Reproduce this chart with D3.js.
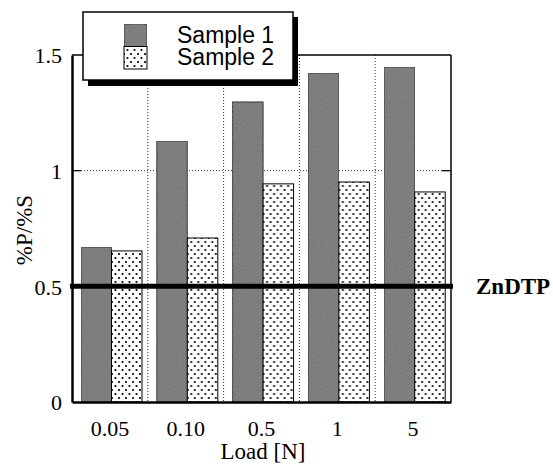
<!DOCTYPE html>
<html>
<head>
<meta charset="utf-8" />
<title>%P/%S vs load</title>
<script src="https://cdn.jsdelivr.net/npm/d3@7/dist/d3.min.js"></script>
<style>
  body { margin: 0; background: #fff; }
  svg { display: block; }
  .tick-label { font-family: "Liberation Serif", "Times New Roman", serif; font-size: 22px; fill: #000; }
</style>
</head>
<body>
<div id="chart"></div>
<script>
// data
var loads = ["0.05", "0.10", "0.5", "1", "5"];
var seriesNames = ["Sample 1", "Sample 2"];
var sample1 = [0.67, 1.128, 1.297, 1.422, 1.448];
var sample2 = [0.653, 0.709, 0.943, 0.951, 0.908];
var yTicks = [0, 0.5, 1, 1.5];
var refValue = 0.5;   // ZnDTP level

(function () {
  var width = 553, height = 470;
  var mLeft = 72, mRight = 451, mTop = 55, mBottom = 402;

  var svg = d3.select("#chart").append("svg")
    .attr("width", width)
    .attr("height", height);

  // dotted fill for sample 2
  var defs = svg.append("defs");
  var pat = defs.append("pattern")
    .attr("id", "dots")
    .attr("patternUnits", "userSpaceOnUse")
    .attr("width", 7).attr("height", 8);
  pat.append("rect").attr("width", 7).attr("height", 8).attr("fill", "#fff");
  pat.append("circle").attr("cx", 1.5).attr("cy", 2).attr("r", 1.1).attr("fill", "#000");
  pat.append("circle").attr("cx", 5).attr("cy", 6).attr("r", 1.1).attr("fill", "#000");

  // grainy gray for sample 1
  var grain = defs.append("filter").attr("id", "grain").attr("x", 0).attr("y", 0).attr("width", 1).attr("height", 1);
  grain.append("feTurbulence").attr("type", "fractalNoise").attr("baseFrequency", 0.9).attr("numOctaves", 1).attr("result", "n");
  grain.append("feColorMatrix").attr("in", "n").attr("type", "matrix")
    .attr("values", "0 0 0 0 0.44  0 0 0 0 0.44  0 0 0 0 0.44  0 0 0 0.35 0").attr("result", "g");
  grain.append("feComposite").attr("in", "g").attr("in2", "SourceGraphic").attr("operator", "in").attr("result", "gg");
  var merge = grain.append("feMerge");
  merge.append("feMergeNode").attr("in", "SourceGraphic");
  merge.append("feMergeNode").attr("in", "gg");

  var x = d3.scaleBand().domain(loads).range([mLeft, mRight]).padding(0);
  var xInner = d3.scaleBand().domain(seriesNames).range([9, 70]).padding(0);
  var y = d3.scaleLinear().domain([0, 1.5]).range([mBottom, mTop]);

  // dotted grid
  svg.selectAll("line.vgrid")
    .data(loads.slice(1))
    .enter().append("line")
    .attr("class", "vgrid")
    .attr("x1", function (d) { return x(d); })
    .attr("x2", function (d) { return x(d); })
    .attr("y1", mTop).attr("y2", mBottom)
    .attr("stroke", "#333").attr("stroke-width", 1).attr("stroke-dasharray", "1,2");
  svg.selectAll("line.hgrid")
    .data([1])
    .enter().append("line")
    .attr("class", "hgrid")
    .attr("x1", mLeft).attr("x2", mRight)
    .attr("y1", function (d) { return y(d); })
    .attr("y2", function (d) { return y(d); })
    .attr("stroke", "#333").attr("stroke-width", 1).attr("stroke-dasharray", "1,2");

  // bars
  var rows = loads.map(function (l, i) {
    return { load: l, values: [sample1[i], sample2[i]] };
  });
  var grp = svg.selectAll("g.cat")
    .data(rows)
    .enter().append("g")
    .attr("class", "cat")
    .attr("transform", function (d) { return "translate(" + x(d.load) + ",0)"; });
  grp.selectAll("rect")
    .data(function (d) { return d.values.map(function (v, j) { return { name: seriesNames[j], v: v }; }); })
    .enter().append("rect")
    .attr("x", function (d) { return xInner(d.name); })
    .attr("width", xInner.bandwidth())
    .attr("y", function (d) { return y(d.v); })
    .attr("height", function (d) { return mBottom - y(d.v); })
    .attr("fill", function (d) { return d.name === "Sample 1" ? "#6f6f6f" : "url(#dots)"; })
    .attr("filter", function (d) { return d.name === "Sample 1" ? "url(#grain)" : null; })
    .attr("stroke", "#000").attr("stroke-width", 1);

  // frame: top and right thin
  svg.append("line").attr("x1", mLeft).attr("x2", mRight).attr("y1", mTop).attr("y2", mTop)
    .attr("stroke", "#000").attr("stroke-width", 1.5);
  svg.append("line").attr("x1", mRight).attr("x2", mRight).attr("y1", mTop).attr("y2", mBottom)
    .attr("stroke", "#000").attr("stroke-width", 1.5);

  // inward ticks on both sides
  svg.selectAll("line.ltick").data(yTicks.slice(1, 3)).enter().append("line")
    .attr("class", "ltick")
    .attr("x1", mLeft).attr("x2", mLeft + 9)
    .attr("y1", function (d) { return y(d); }).attr("y2", function (d) { return y(d); })
    .attr("stroke", "#000").attr("stroke-width", 1.2);
  svg.selectAll("line.rtick").data(yTicks.slice(1, 3)).enter().append("line")
    .attr("class", "rtick")
    .attr("x1", mRight - 9).attr("x2", mRight)
    .attr("y1", function (d) { return y(d); }).attr("y2", function (d) { return y(d); })
    .attr("stroke", "#000").attr("stroke-width", 1.2);

  // axes
  var yAxis = svg.append("g")
    .attr("transform", "translate(" + mLeft + ",0)")
    .call(d3.axisLeft(y).tickValues(yTicks).tickSize(0).tickPadding(10)
      .tickFormat(function (d) { return String(d); }));
  yAxis.select(".domain").attr("stroke-width", 2.5);
  yAxis.selectAll("text").attr("class", "tick-label").attr("dy", "0.35em");

  var xAxis = svg.append("g")
    .attr("transform", "translate(0," + mBottom + ")")
    .call(d3.axisBottom(x).tickSize(0).tickPadding(18));
  xAxis.select(".domain").attr("stroke-width", 2.5);
  xAxis.selectAll("text").attr("class", "tick-label");

  // ZnDTP reference line
  svg.append("line")
    .attr("x1", mLeft - 2).attr("x2", mRight + 2)
    .attr("y1", y(refValue)).attr("y2", y(refValue))
    .attr("stroke", "#000").attr("stroke-width", 5);
  svg.append("text")
    .attr("x", 476).attr("y", y(refValue))
    .attr("dy", "0.35em")
    .attr("font-family", "Liberation Serif, Times New Roman, serif")
    .attr("font-weight", "bold").attr("font-size", 23)
    .text("ZnDTP");

  // axis titles
  svg.append("text")
    .attr("transform", "translate(32,230) rotate(-90)")
    .attr("text-anchor", "middle")
    .attr("font-family", "Liberation Serif, Times New Roman, serif")
    .attr("font-size", 23)
    .text("%P/%S");
  svg.append("text")
    .attr("x", 263).attr("y", 459)
    .attr("text-anchor", "middle")
    .attr("font-family", "Liberation Serif, Times New Roman, serif")
    .attr("font-size", 23)
    .text("Load [N]");

  // legend with drop shadow
  var leg = svg.append("g");
  leg.append("rect").attr("x", 88).attr("y", 17).attr("width", 210).attr("height", 69).attr("fill", "#000");
  leg.append("rect").attr("x", 83).attr("y", 12).attr("width", 210).attr("height", 68)
    .attr("fill", "#fff").attr("stroke", "#000").attr("stroke-width", 1.5);
  seriesNames.forEach(function (name, i) {
    leg.append("rect")
      .attr("x", 124).attr("y", 24 + i * 22.5)
      .attr("width", 23).attr("height", 22.5)
      .attr("fill", i === 0 ? "#6f6f6f" : "url(#dots)")
      .attr("filter", i === 0 ? "url(#grain)" : null)
      .attr("stroke", "#000").attr("stroke-width", 1);
    leg.append("text")
      .attr("x", 177).attr("y", 43 + i * 22)
      .attr("font-family", "Liberation Sans, Arial, Helvetica, sans-serif")
      .attr("font-size", 23)
      .text(name);
  });
})();
</script>
</body>
</html>
